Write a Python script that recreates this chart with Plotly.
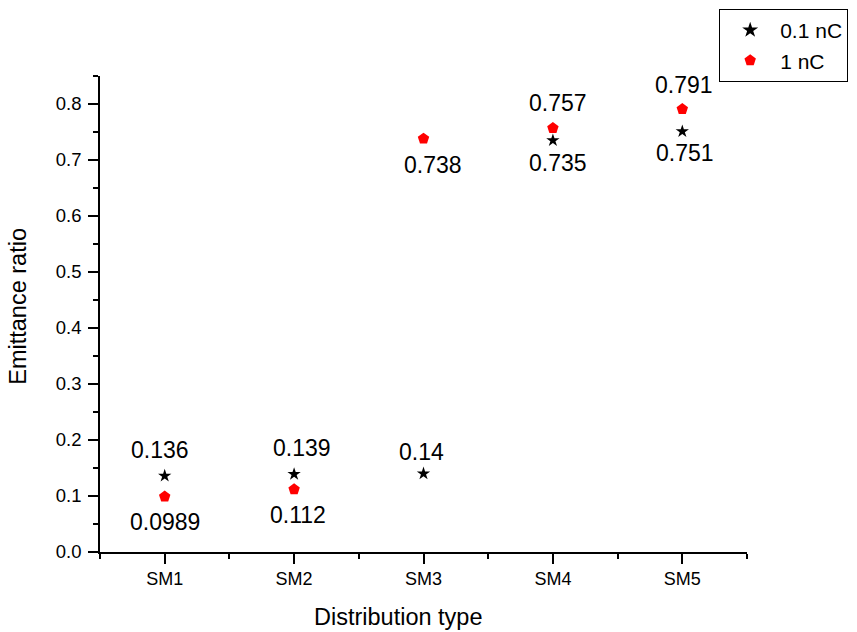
import plotly.graph_objects as go

# Distribution types and emittance ratios for the two bunch charges
categories = ["SM1", "SM2", "SM3", "SM4", "SM5"]
ratio_01nC = [0.136, 0.139, 0.14, 0.735, 0.751]
ratio_1nC = [0.0989, 0.112, 0.738, 0.757, 0.791]

# Value-label offsets from each marker, in pixels (dx, dy; +dy = above)
label_offsets_01nC = [(-5, 26), (8, 26), (-2, 22), (5, -23), (3, -22)]
label_offsets_1nC = [(0, -25), (4, -26), (9, -26), (5, 25), (2, 24)]

x_pos = list(range(1, len(categories) + 1))
FONT = "Liberation Sans, Arial, sans-serif"

fig = go.Figure()
fig.add_trace(go.Scatter(
    x=x_pos, y=ratio_01nC, mode="markers", name="0.1 nC",
    marker=dict(symbol="star", size=10, color="black", line=dict(width=0)),
))
fig.add_trace(go.Scatter(
    x=x_pos, y=ratio_1nC, mode="markers", name="1 nC",
    marker=dict(symbol="pentagon", size=12, color="#ff0000", line=dict(width=0)),
))

annotations = []
for vals, offs in ((ratio_01nC, label_offsets_01nC), (ratio_1nC, label_offsets_1nC)):
    for xp, v, (dx, dy) in zip(x_pos, vals, offs):
        annotations.append(dict(
            x=xp, y=v, text=f"{v:g}", showarrow=False,
            xshift=dx, yshift=dy,
            font=dict(size=23, color="black", family=FONT),
        ))

# Axis titles placed as paper-anchored text
annotations.append(dict(
    xref="paper", yref="paper", x=0.462, y=-0.137,
    text="Distribution type", showarrow=False,
    xanchor="center", yanchor="middle",
    font=dict(size=23.5, color="black", family=FONT),
))
annotations.append(dict(
    xref="paper", yref="paper", x=-0.127, y=0.517,
    text="Emittance ratio", showarrow=False, textangle=-90,
    xanchor="center", yanchor="middle",
    font=dict(size=23.5, color="black", family=FONT),
))

axis_common = dict(
    showline=True, linecolor="black", linewidth=1.6, mirror=False,
    showgrid=False, zeroline=False, automargin=False,
    ticks="outside", ticklen=10, tickwidth=1.6, tickcolor="black",
)

fig.update_layout(
    width=857, height=632,
    margin=dict(l=100, r=110, t=76, b=80, autoexpand=False),
    plot_bgcolor="white", paper_bgcolor="white",
    font=dict(family=FONT, color="black"),
    showlegend=True,
    legend=dict(
        x=0.957, y=1.141, xanchor="left", yanchor="top",
        bordercolor="black", borderwidth=1, bgcolor="white",
        font=dict(size=21, family=FONT),
        tracegroupgap=0, itemsizing="constant", itemwidth=50,
        entrywidth=110,
    ),
    annotations=annotations,
    xaxis=dict(
        **axis_common,
        range=[0.5, 5.5],
        tickmode="array", tickvals=x_pos, ticktext=categories,
        tickfont=dict(size=18),
        minor=dict(ticks="outside", ticklen=5, tickwidth=1.6, tickcolor="black",
                   tickmode="linear", tick0=0.5, dtick=1),
    ),
    yaxis=dict(
        **axis_common,
        range=[0, 0.85],
        tickmode="linear", tick0=0, dtick=0.1, tickformat=".1f",
        tickfont=dict(size=18.5),
        ticklabelstandoff=3,
        minor=dict(ticks="outside", ticklen=5, tickwidth=1.6, tickcolor="black",
                   tickmode="linear", tick0=0.05, dtick=0.1),
    ),
)

fig.write_html("out.html")
